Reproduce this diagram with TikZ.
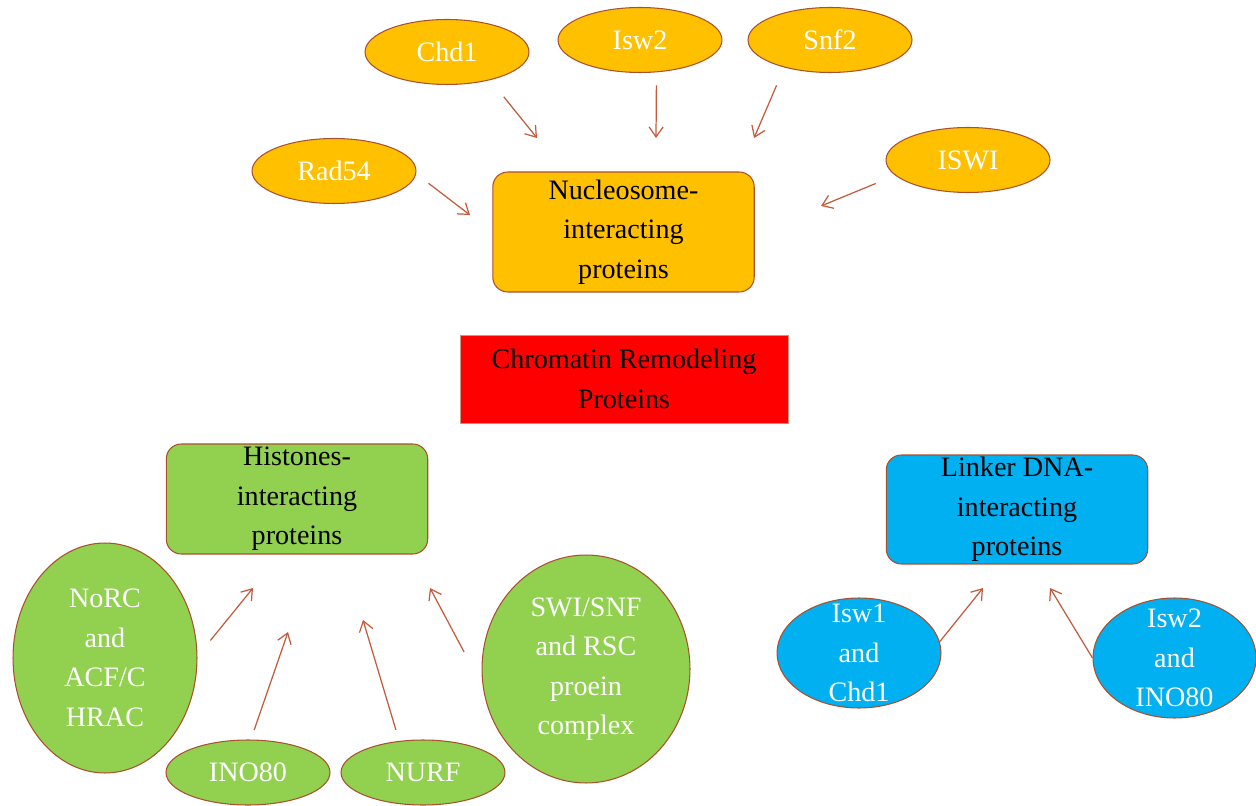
\documentclass[tikz,border=0pt]{standalone}
\usepackage{fontspec}
\setmainfont{Liberation Serif}
\usetikzlibrary{shapes.geometric, arrows.meta}
\definecolor{nucorange}{HTML}{FFC000}
\definecolor{hisgreen}{HTML}{92D050}
\definecolor{linkblue}{HTML}{00B0F0}
\definecolor{remred}{HTML}{FF0000}
\definecolor{rimbrown}{HTML}{A9502E}
\definecolor{arrowbrown}{HTML}{C25A3C}

\begin{document}
\begin{tikzpicture}[x=0.02cm, y=0.02cm, font=\fontsize{16}{22.5}\selectfont]
\tikzstyle{card} = [rectangle, rounded corners=3mm, draw=rimbrown, line width=0.6pt, align=center, inner sep=1pt, minimum width=5.23cm]
\tikzstyle{redcard} = [rectangle, draw=rimbrown!60, line width=0.5pt, fill=remred, align=center, minimum width=6.56cm, minimum height=1.76cm]
\tikzstyle{oval} = [ellipse, draw=rimbrown, line width=0.6pt, align=center, inner sep=-9pt, text=white]
\tikzstyle{orangeoval} = [oval, fill=nucorange, minimum width=3.28cm, minimum height=1.3cm]
\tikzstyle{greenoval} = [oval, fill=hisgreen]
\tikzstyle{blueoval} = [oval, fill=linkblue]
\tikzstyle{arrow} = [draw=arrowbrown, line width=0.7pt, -{Straight Barb[length=2mm,width=2.8mm]}]

\useasboundingbox (0,0) rectangle (1256,805);

%node
\node (NU) [card, fill=nucorange, minimum height=2.4cm] at (623.5,573) {Nucleosome-\\interacting\\proteins};
\node (NA) [orangeoval] at (447,753) {Chd1};
\node (NB) [orangeoval] at (640,765) {Isw2};
\node (NC) [orangeoval] at (830,765) {Snf2};
\node (ND) [orangeoval] at (334,634) {Rad54};
\node (NE) [orangeoval] at (968,645) {ISWI};

\node (CR) [redcard] at (624,426) {Chromatin Remodeling\\Proteins};

\node (HI) [card, fill=hisgreen, minimum height=2.2cm] at (297,306) {Histones-\\interacting\\proteins};
\node (HA) [greenoval, minimum width=3.68cm, minimum height=4.6cm] at (105,147) {NoRC\\and\\ACF/C\\HRAC};
\node (HB) [greenoval, minimum width=3.28cm, minimum height=1.3cm] at (248,32.5) {INO80};
\node (HC) [greenoval, minimum width=3.28cm, minimum height=1.3cm] at (423,32.5) {NURF};
\node (HD) [greenoval, minimum width=4.16cm, minimum height=4.56cm] at (586,136) {SWI/SNF\\and RSC\\proein\\complex};

\node (LI) [card, fill=linkblue, minimum height=2.18cm] at (1017,295.5) {Linker DNA-\\interacting\\proteins};
\node (LA) [blueoval, minimum width=3.28cm, minimum height=2.2cm] at (859,152) {Isw1\\and\\Chd1};
\node (LB) [blueoval, minimum width=3.26cm, minimum height=2.4cm] at (1174.5,147) {Isw2\\and\\INO80};

%Empty target nodes
\coordinate (NAT) at (537,667);
\coordinate (NBT) at (656,667);
\coordinate (NCT) at (754,667);
\coordinate (NDT) at (470,590);
\coordinate (NET) at (821,599);

\coordinate (HAT) at (253,217);
\coordinate (HBT) at (288,173);
\coordinate (HCT) at (363,185);
\coordinate (HDT) at (430,217);

\coordinate (LAT) at (983,217);
\coordinate (LBT) at (1050,217);

%lines to target node
\draw [arrow, shorten <=0.43cm] (NA.327) -- (NAT);
\draw [arrow, shorten <=0.26cm] (NB.297) -- (NBT);
\draw [arrow, shorten <=0.39cm] (NC.211) -- (NCT);
\draw [arrow, shorten <=0.31cm] (ND.358) -- (NDT);
\draw [arrow, shorten <=0.42cm] (NE.192) -- (NET);

\draw [arrow, shorten <=0.41cm] (HA.1) -- (HAT);
\draw [arrow, shorten <=0.2cm] (HB.85) -- (HBT);
\draw [arrow, shorten <=0.23cm] (HC.127) -- (HCT);
\draw [arrow, shorten <=0.8cm] (HD.190) -- (HDT);

\draw [arrow] (LA.8) -- (LAT);
\draw [arrow] (LB.180) -- (LBT);
\end{tikzpicture}
\end{document}
